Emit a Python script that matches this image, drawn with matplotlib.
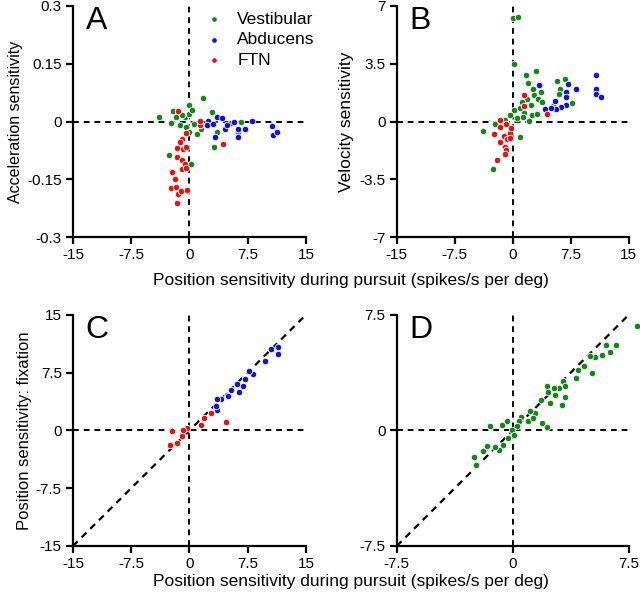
import matplotlib.pyplot as plt

plt.rcParams['font.family'] = ['Liberation Sans', 'DejaVu Sans']
plt.rcParams['font.size'] = 10.5

GREEN = '#16861c'
BLUE = '#1212d2'
RED = '#e01414'

# panel A: position (x) vs acceleration sensitivity (y)
a_ves_x = [-3.9, -2.1, -1.7, -2.4, -1.2, -0.6, -0.1, -0.1, 0.3, 1.7, 2.9, -0.4, 0.0, 1.0,
           1.5, 3.5, 3.1, -2.6, 0.2, 6.6, 6.2, -1.0, 0.6, 2.2]
a_ves_y = [0.011, 0.028, 0.012, -0.003, -0.010, 0.011, 0.044, 0.021, 0.030, 0.061, 0.026, -0.013,
           -0.027, -0.031, -0.020, -0.027, -0.065, -0.086, -0.110, -0.001, -0.026, 0.018, -0.005, -0.012]
a_abd_x = [3.5, 4.2, 3.3, 4.6, 5.3, 5.7, 6.2, 6.2, 7.1, 8.1, 10.6, 10.8, 11.3, 2.4, 2.2, 4.9, 3.0]
a_abd_y = [0.011, 0.009, -0.039, -0.019, -0.003, -0.001, -0.020, -0.039, -0.020, 0.002, -0.012,
           -0.036, -0.027, 0.002, -0.008, -0.010, -0.005]
a_ftn_x = [-1.5, 1.35, 1.3, 4.3, -0.9, -1.2, -1.6, -0.8, -0.4, -1.6, -0.9, -0.6, -2.2, -1.0, -0.4,
           -1.8, -2.4, -1.7, -1.5, -1.1, -0.3, -1.6, -0.5]
a_ftn_y = [0.028, -0.010, 0.002, -0.058, -0.045, -0.053, -0.069, -0.070, -0.065, -0.093, -0.100,
           -0.109, -0.130, -0.124, -0.120, -0.150, -0.173, -0.171, -0.188, -0.181, -0.178, -0.211, -0.030]

# panel B: position (x) vs velocity sensitivity (y)
b_ves_x = [0.0, 0.7, 0.1, 1.7, 3.0, 2.0, 2.6, 3.5, 5.7, 6.7, 6.1, 3.6, 2.8, 1.85, 1.2, 3.2, 3.8,
           2.4, 0.9, 0.2, 1.4, 2.5, 3.1, 5.2, 6.0, 7.7, 1.3, 0.6, 2.1, -0.3, -1.0, -3.9, -2.3,
           0.9, -2.6]
b_ves_y = [6.3, 6.35, 3.5, 2.8, 3.04, 2.35, 1.95, 2.2, 2.44, 2.55, 1.95, 1.79, 1.59, 1.38, 1.18,
           1.35, 1.18, 0.98, 0.85, 0.7, 0.53, 0.37, 0.49, 0.94, 1.7, 1.14, 0.25, 0.2, 0.01, 0.37,
           0.1, -0.55, -0.15, -0.96, -2.9]
b_abd_x = [3.4, 7.1, 8.2, 6.9, 6.85, 5.5, 6.85, 6.2, 5.65, 5.0, 4.2, 10.7, 10.8, 10.7, 11.4]
b_abd_y = [2.2, 2.27, 1.99, 1.79, 1.47, 1.26, 1.02, 0.86, 0.78, 0.85, 0.78, 2.8, 1.95, 1.67, 1.5]
b_ftn_x = [1.5, 1.5, 4.4, -1.7, -0.9, -1.6, -2.45, -1.2, -0.4, -0.7, -1.6, -0.3, -1.07, -0.9,
           -1.0, -2.1, -0.2]
b_ftn_y = [1.59, 0.94, 0.45, 0.09, -0.15, -0.35, -0.76, -0.85, -0.72, -1.08, -1.24, -1.0, -1.53,
           -1.75, -1.97, -2.3, -0.4]

# panel C: position during pursuit (x) vs fixation (y)
c_abd_x = [11.4, 11.4, 10.5, 9.7, 8.2, 7.7, 7.2, 6.9, 6.15, 6.4, 5.4, 4.8, 4.1, 3.6, 5.0, 3.6, 3.4]
c_abd_y = [10.8, 9.9, 10.5, 9.0, 7.3, 7.7, 6.7, 5.7, 6.0, 5.0, 5.2, 4.65, 4.1, 4.05, 4.4, 2.7, 3.2]
c_ftn_x = [4.7, 1.9, 1.45, -0.35, -1.0, -2.25, -1.65, -2.5, -0.8, 2.8]
c_ftn_y = [1.1, 1.6, 0.75, 0.25, -0.7, -0.1, -1.66, -1.9, 0.1, 2.2]

# panel D: vestibular only
d_ves_x = [8.0, 6.65, 6.05, 6.3, 5.75, 5.3, 5.0, 4.6, 4.2, 4.1, 5.15, 3.25, 3.4, 3.0, 2.65, 2.2,
           2.26, 2.7, 3.4, 2.4, 3.15, 1.83, 1.44, 1.1, 0.97, 1.3, 0.5, 0.4, 1.87, 2.2, 0.28,
           -0.4, -0.67, -1.5, -0.06, -0.63, -0.89, -1.18, -1.66, -1.92, -2.52, -2.4, -0.3, 0.1]
d_ves_y = [6.8, 5.57, 5.53, 5.1, 4.9, 4.75, 4.84, 4.2, 3.9, 3.4, 3.7, 3.2, 2.9, 2.76, 2.76, 2.9,
           2.5, 2.3, 2.15, 1.77, 1.64, 2.0, 1.16, 1.25, 0.64, 0.8, 0.9, 0.6, 0.5, 0.25, 0.3,
           0.6, 0.34, 0.3, 0.0, -0.92, -1.27, -1.09, -1.0, -1.35, -1.7, -2.26, -0.5, -0.3]

xlabel = 'Position sensitivity during pursuit (spikes/s per deg)'

fig = plt.figure(figsize=(6.4, 5.99), dpi=100)
axA = fig.add_axes([0.114, 0.604, 0.364, 0.386])
axB = fig.add_axes([0.620, 0.604, 0.3625, 0.386])
axC = fig.add_axes([0.114, 0.0885, 0.364, 0.386])
axD = fig.add_axes([0.620, 0.0885, 0.3625, 0.386])


def style(ax, lim, ylim, xt, yt, xtl, ytl, diag=False):
    ax.set_xlim(lim)
    ax.set_ylim(ylim)
    ax.axhline(0, color='black', ls=(0, (3, 2.5)), lw=1.4, zorder=1)
    ax.axvline(0, color='black', ls=(0, (3, 2.5)), lw=1.4, zorder=1)
    if diag:
        ax.plot(lim, ylim, color='black', ls=(0, (3, 2.5)), lw=1.6, zorder=1)
    for s in ['top', 'right']:
        ax.spines[s].set_visible(False)
    for s in ['left', 'bottom']:
        ax.spines[s].set_linewidth(1.6)
    ax.set_xticks(xt)
    ax.set_xticklabels(xtl)
    ax.set_yticks(yt)
    ax.set_yticklabels(ytl)
    ax.tick_params(direction='out', length=5, width=1.6, labelsize=11, pad=3)


def dots(ax, x, y, c, label=None):
    ax.scatter(x, y, s=22, color=c, edgecolors='white', linewidths=0.6, zorder=3,
               clip_on=False, label=label)


pos = [-15, -7.5, 0, 7.5, 15]
pos_lbl = ['-15', '-7.5', '0', '7.5', '15']

# A
style(axA, (-15, 15), (-0.3, 0.3), pos, [-0.3, -0.15, 0, 0.15, 0.3], pos_lbl,
      ['-0.3', '-0.15', '0', '0.15', '0.3'])
dots(axA, a_ves_x, a_ves_y, GREEN, 'Vestibular')
dots(axA, a_abd_x, a_abd_y, BLUE, 'Abducens')
dots(axA, a_ftn_x, a_ftn_y, RED, 'FTN')
axA.set_ylabel('Acceleration sensitivity', fontsize=11.5, labelpad=3)
axA.legend(loc='upper left', bbox_to_anchor=(0.50, 1.005), frameon=False, fontsize=12.5,
           handletextpad=0.35, labelspacing=0.3, borderaxespad=0, markerscale=0.85)

# B
style(axB, (-15, 15), (-7, 7), pos, [-7, -3.5, 0, 3.5, 7], pos_lbl,
      ['-7', '-3.5', '0', '3.5', '7'])
dots(axB, b_ves_x, b_ves_y, GREEN)
dots(axB, b_abd_x, b_abd_y, BLUE)
dots(axB, b_ftn_x, b_ftn_y, RED)
axB.set_ylabel('Velocity sensitivity', fontsize=12.5, labelpad=4)

# C
style(axC, (-15, 15), (-15, 15), pos, pos, pos_lbl, pos_lbl, diag=True)
dots(axC, c_abd_x, c_abd_y, BLUE)
dots(axC, c_ftn_x, c_ftn_y, RED)
axC.set_ylabel('Position sensitivity: fixation', fontsize=12, labelpad=3)

# D
style(axD, (-7.5, 7.5), (-7.5, 7.5), [-7.5, 0, 7.5], [-7.5, 0, 7.5],
      ['-7.5', '0', '7.5'], ['-7.5', '0', '7.5'], diag=True)
dots(axD, d_ves_x, d_ves_y, GREEN)

for ax, letter in zip([axA, axB, axC, axD], 'ABCD'):
    ax.text(0.055, 1.0, letter, transform=ax.transAxes, fontsize=23, va='top', ha='left')

fig.text(0.548, 0.531, xlabel, ha='center', va='center', fontsize=12.5)
fig.text(0.548, 0.030, xlabel, ha='center', va='center', fontsize=12.5)

fig.savefig('out.png', dpi=100)
